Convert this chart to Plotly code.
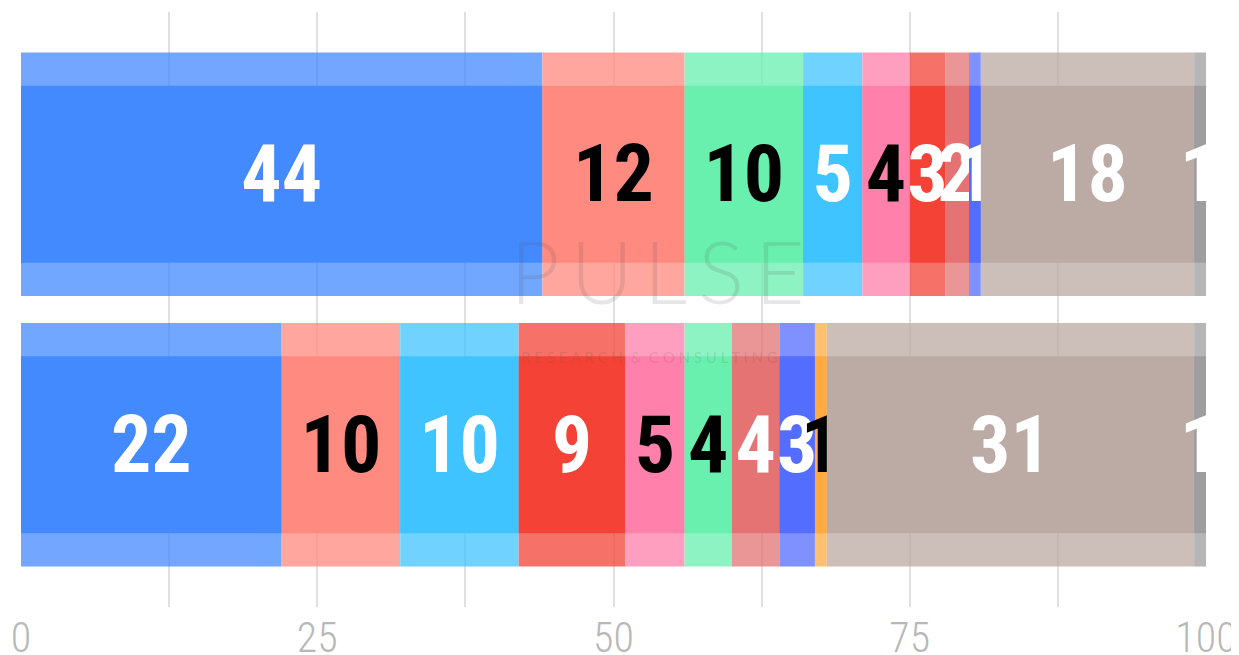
import plotly.graph_objects as go
import numpy as np

rows = ["Row A", "Row B"]

values_a = [44, 12, 10, 5, 4, 3, 2, 1, 18, 1]
colors_a = ["#448AFF", "#FF8A80", "#69F0AE", "#40C4FF", "#FF80AB", "#F44336",
            "#E57373", "#536DFE", "#BCAAA4", "#9E9E9E"]

values_b = [22, 10, 10, 9, 5, 4, 4, 3, 1, 31, 1]
colors_b = ["#448AFF", "#FF8A80", "#40C4FF", "#F44336", "#FF80AB", "#69F0AE",
            "#E57373", "#536DFE", "#FFAB40", "#BCAAA4", "#9E9E9E"]

tick_vals = [0, 25, 50, 75, 100]
tick_text = ["0", "25", "50", "75", "100"]

dark_text_on = {"#FF8A80", "#69F0AE", "#FF80AB", "#FFAB40"}

xs, bases, ys, cols, labels, lcols = [], [], [], [], [], []
for row, vals, cl in [(rows[0], values_a, colors_a), (rows[1], values_b, colors_b)]:
    starts = np.concatenate([[0], np.cumsum(vals)[:-1]])
    for v, s, c in zip(vals, starts, cl):
        xs.append(v)
        bases.append(float(s))
        ys.append(row)
        cols.append(c)
        labels.append(str(v))
        lcols.append("#000000" if c in dark_text_on else "#FFFFFF")

FONT = "Roboto Condensed, Liberation Sans Narrow, DejaVu Sans Condensed, Roboto"

fig = go.Figure()
fig.add_trace(go.Bar(x=xs, base=bases, y=ys, orientation="h", width=0.9,
                     marker=dict(color=cols, line=dict(width=0)), opacity=0.75,
                     hoverinfo="skip", showlegend=False))
fig.add_trace(go.Bar(x=xs, base=bases, y=ys, orientation="h", width=0.655,
                     marker=dict(color=cols, line=dict(width=0)), opacity=1,
                     text=labels, textposition="inside", insidetextanchor="middle",
                     textangle=0, constraintext="none", cliponaxis=True,
                     insidetextfont=dict(family=FONT, size=80, color=lcols, weight="bold"),
                     hoverinfo="skip", showlegend=False))

fig.add_annotation(x=0.537, y=0.566, xref="paper", yref="paper",
                   text="P\u2009U\u2009L\u2009S\u2009E",
                   showarrow=False,
                   font=dict(family="Lato, Roboto", size=86, color="rgba(80,80,80,0.14)", weight=300))
fig.add_annotation(x=0.53, y=0.42, xref="paper", yref="paper",
                   text="R E S E A R C H  &  C O N S U L T I N G",
                   showarrow=False,
                   font=dict(family="Lato, Roboto", size=15, color="rgba(80,80,80,0.16)"))

fig.update_layout(
    width=1231, height=647,
    margin=dict(l=13, r=33, t=4, b=48),
    paper_bgcolor="white", plot_bgcolor="white",
    barmode="overlay",
    uniformtext=dict(minsize=80, mode="show"),
    xaxis=dict(range=[0, 100], tickvals=tick_vals, ticktext=tick_text,
               showgrid=True, gridcolor="#e0e0e0", gridwidth=2,
               minor=dict(dtick=12.5, showgrid=True, gridcolor="#e0e0e0", gridwidth=2),
               zeroline=False, showline=False, ticks="", automargin=False,
               tickfont=dict(family=FONT, size=42, color="#b8b8b8", weight=300),
               ticklabelstandoff=2),
    yaxis=dict(type="category", categoryorder="array", categoryarray=rows,
               range=[1.6, -0.6], showticklabels=False, showgrid=False,
               zeroline=False, showline=False, ticks="", automargin=False),
)

fig.write_html("out.html")
